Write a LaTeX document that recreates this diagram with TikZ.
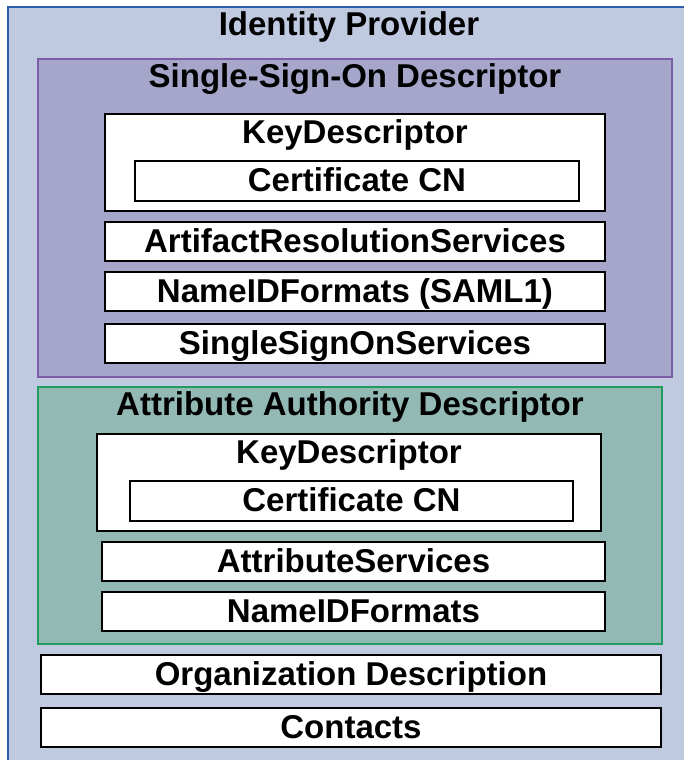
\documentclass[tikz,border=0pt]{standalone}
\usepackage{fontspec}
\setmainfont{Liberation Sans}
\definecolor{outerfill}{HTML}{BFC9E0}
\definecolor{outerdraw}{HTML}{2F5DAE}
\definecolor{ssofill}{HTML}{A6A6CA}
\definecolor{ssodraw}{HTML}{7B5CA5}
\definecolor{aafill}{HTML}{93B9B5}
\definecolor{aadraw}{HTML}{1F9C5E}
\newcommand\mybox[6]{%
  \node[#2, anchor=north west, inner sep=0pt, outer sep=0pt,
        minimum width={(#5-#3)*1pt}, minimum height={(#6-#4)*1pt}] (#1) at (#3,#4) {};}
\begin{document}
\begin{tikzpicture}[x=1pt,y=-1pt,
  wbox/.style={draw=black, line width=2pt, fill=white},
  ssobox/.style={draw=ssodraw, line width=1.8pt, fill=ssofill},
  aabox/.style={draw=aadraw, line width=1.6pt, fill=aafill},
  outerbox/.style={draw=outerdraw, line width=2pt, fill=outerfill},
  lbl/.style={font=\fontsize{33}{36}\selectfont\bfseries, anchor=base, inner sep=0pt}]
\useasboundingbox (0,0) rectangle (684,760);
\clip (0,0) rectangle (684,760);
\fill[white] (0,0) rectangle (684,760);
\mybox{idp}{outerbox}{8}{7}{700}{780}
\node[lbl] (idpT) at (349,36) {Identity Provider};

\mybox{sso}{ssobox}{38}{59}{672}{377}
\node[lbl] (ssoT) at (355,87) {Single-Sign-On Descriptor};
\mybox{kd1}{wbox}{105}{114}{605}{211}
\node[lbl] (kd1T) at (355,143) {KeyDescriptor};
\mybox{cert1}{wbox}{135}{161}{579}{201}
\node[lbl] (cert1T) at (cert1.center |- 0,191) {Certificate CN};
\mybox{art}{wbox}{105}{222}{605}{261}
\node[lbl] (artT) at (art.center |- 0,252) {ArtifactResolutionServices};
\mybox{nid1}{wbox}{105}{272}{605}{311}
\node[lbl] (nid1T) at (nid1.center |- 0,302) {NameIDFormats (SAML1)};
\mybox{ssos}{wbox}{105}{324}{605}{363}
\node[lbl] (ssosT) at (ssos.center |- 0,354) {SingleSignOnServices};

\mybox{aa}{aabox}{38}{387}{662}{644}
\node[lbl] (aaT) at (350,415) {Attribute Authority Descriptor};
\mybox{kd2}{wbox}{97}{434}{601}{531}
\node[lbl] (kd2T) at (349,463) {KeyDescriptor};
\mybox{cert2}{wbox}{130}{481}{573}{521}
\node[lbl] (cert2T) at (cert2.center |- 0,511) {Certificate CN};
\mybox{attr}{wbox}{102}{542}{605}{581}
\node[lbl] (attrT) at (attr.center |- 0,572) {AttributeServices};
\mybox{nid2}{wbox}{102}{592}{605}{631}
\node[lbl] (nid2T) at (nid2.center |- 0,622) {NameIDFormats};

\mybox{org}{wbox}{41}{655}{661}{694}
\node[lbl] (orgT) at (org.center |- 0,685) {Organization Description};
\mybox{cont}{wbox}{41}{708}{661}{747}
\node[lbl] (contT) at (cont.center |- 0,738) {Contacts};
\end{tikzpicture}
\end{document}
